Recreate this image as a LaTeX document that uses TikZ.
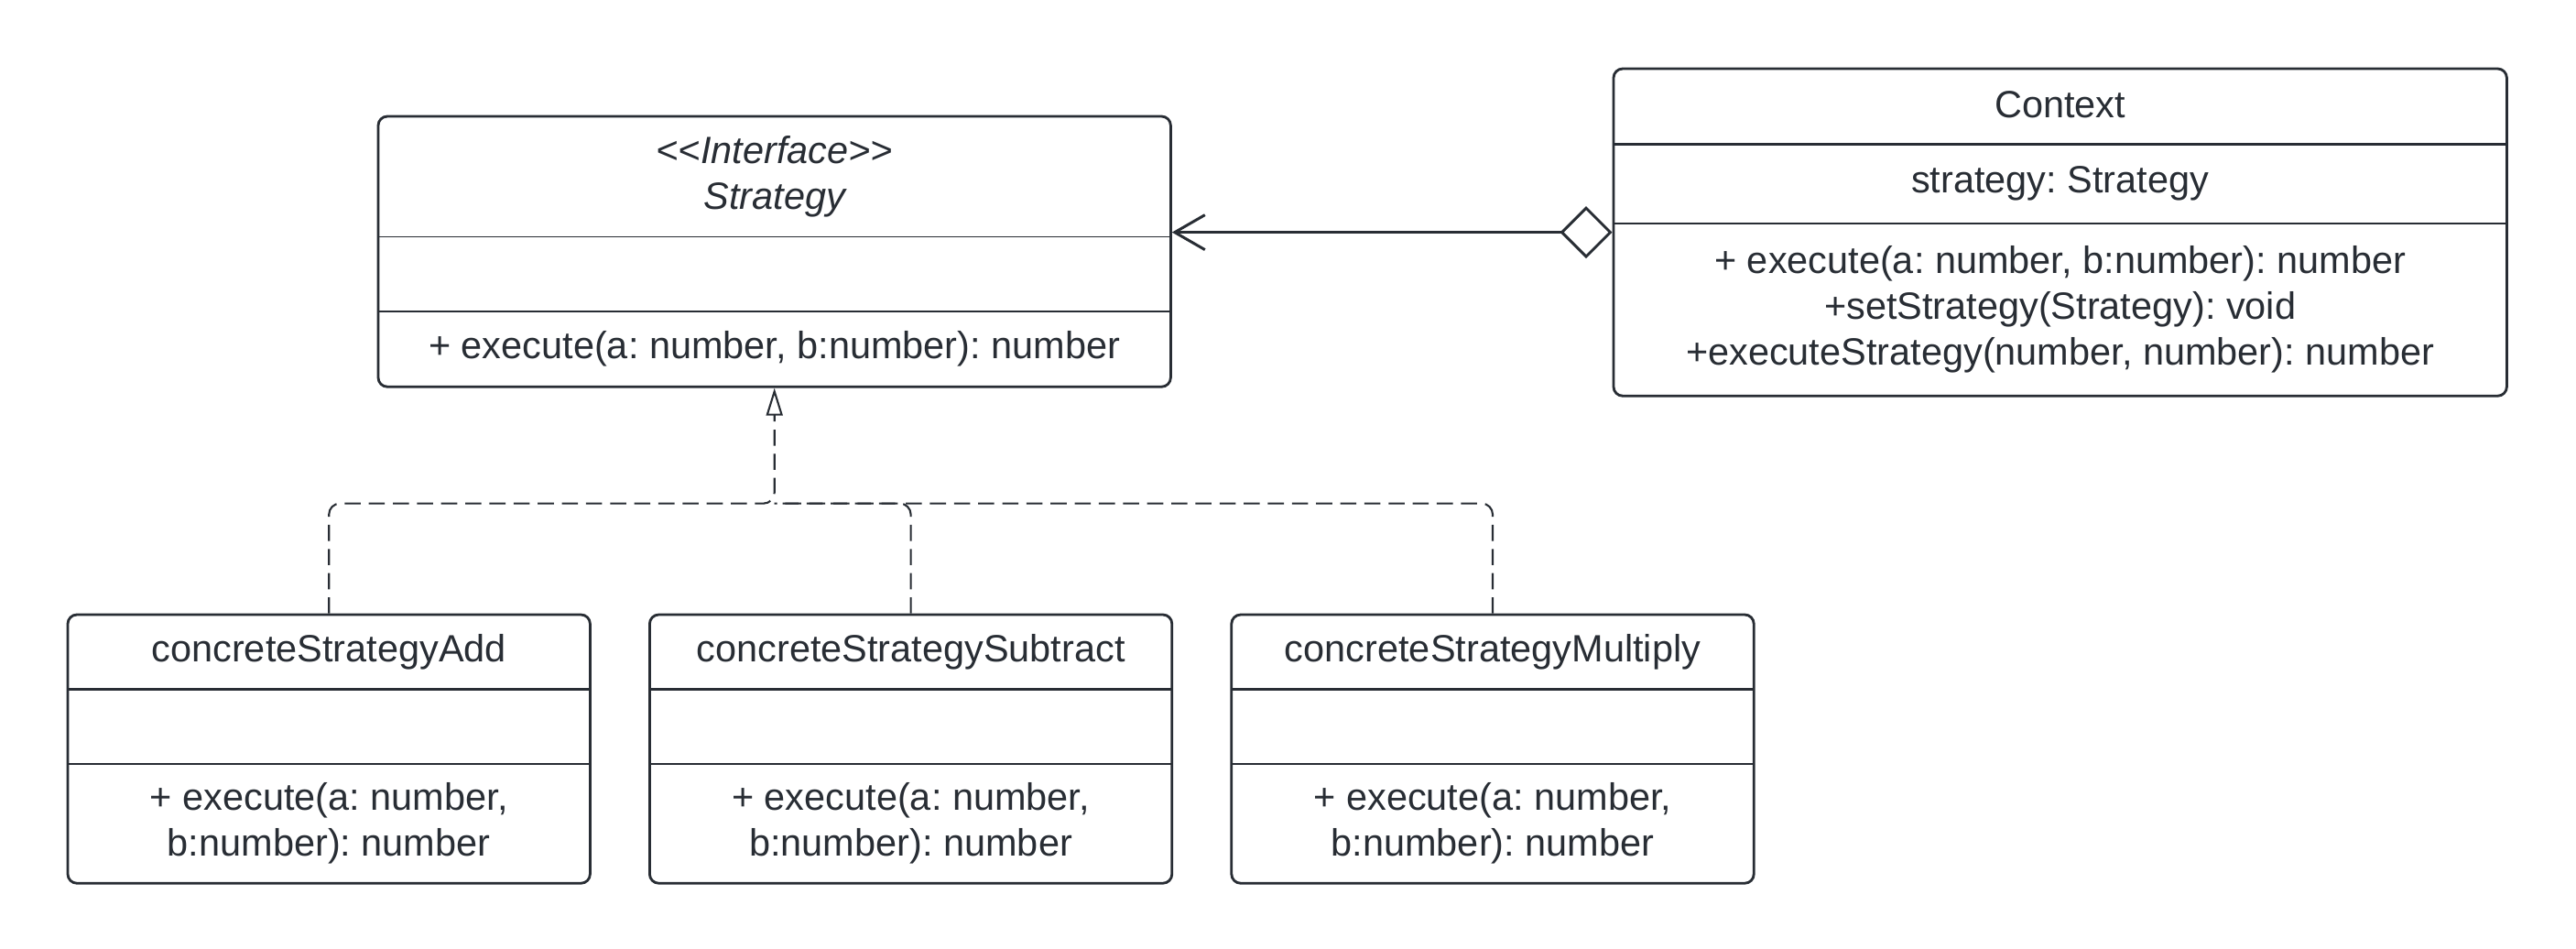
\documentclass[tikz,border=0pt]{standalone}
\usepackage{fontspec}
\setmainfont{Liberation Sans}
\usepackage{xcolor}
\definecolor{umlgray}{RGB}{40,45,52}
\usetikzlibrary{positioning}
\usetikzlibrary{fit}
\usetikzlibrary{arrows.meta}
\frenchspacing
\newcommand{\widthchild}{5.69cm}
\newcommand{\widthstrat}{8.64cm}
\newcommand{\widthctx}{9.74cm}
\newcommand{\heightrow}{0.80cm}
\tikzset{
    part/.style={rectangle, inner sep=0pt, align=center, minimum height=\heightrow},
    frame/.style={draw, rectangle, rounded corners=1mm, inner sep=0pt, line width=0.8pt},
    divider/.style={line width=0.75pt},
    thindivider/.style={line width=0.45pt},
    assoc/.style={line width=0.85pt, {Diamond[open, length=5.7mm, width=5.7mm]}-{Straight Barb[length=3.3mm, width=3.8mm]}},
    realize/.style={line width=0.6pt, dash pattern=on 5pt off 2.5pt, rounded corners=1.2mm},
    realizetip/.style={-{Triangle[open, length=3mm, width=1.8mm]}}
}

\begin{document}
\begin{tikzpicture}[color=umlgray, text=umlgray, font=\fontsize{11.8}{14.2}\selectfont]
    \useasboundingbox (0,0) rectangle (28.13,-10.35);

    % interface
    \node[part, anchor=north west, minimum width=\widthstrat, minimum height=1.30cm] (Strat-name) at (4.13,-1.27) {{\itshape <\kern0pt<Interface>\kern0pt>}\\{\itshape Strategy}};
    \node[part, below=0pt of Strat-name, minimum width=\widthstrat] (Strat-attr) {};
    \node[part, below=0pt of Strat-attr, minimum width=\widthstrat, minimum height=0.81cm] (Strat-ops) {+ execute(a: number, b:number): number};
    \node[frame, fit=(Strat-name)(Strat-ops)] (Strat) {};
    \draw[thindivider]
        (Strat-attr.north west) -- (Strat-attr.north east)
        (Strat-ops.north west) -- (Strat-ops.north east);

    % context
    \node[part, anchor=north west, minimum width=\widthctx, minimum height=0.81cm] (Ctx-name) at (17.62,-0.75) {\raisebox{0.5mm}{Context}};
    \node[part, below=0pt of Ctx-name, minimum width=\widthctx, minimum height=0.85cm] (Ctx-attr) {strategy: Strategy};
    \node[part, below=0pt of Ctx-attr, minimum width=\widthctx, minimum height=1.87cm] (Ctx-ops) {+ execute(a: number, b:number): number\\+setStrategy(Strategy): void\\+executeStrategy(number, number): number};
    \node[frame, fit=(Ctx-name)(Ctx-ops)] (Ctx) {};
    \draw[divider]
        (Ctx-attr.north west) -- (Ctx-attr.north east)
        (Ctx-ops.north west) -- (Ctx-ops.north east);

    % concrete strategies
    \node[part, anchor=north west, minimum width=\widthchild] (Add-name) at (0.74,-6.71) {concreteStrategyAdd};
    \node[part, below=0pt of Add-name, minimum width=\widthchild] (Add-attr) {};
    \node[part, below=0pt of Add-attr, minimum width=\widthchild, minimum height=1.29cm] (Add-ops) {+ execute(a: number,\\b:number): number};
    \node[frame, fit=(Add-name)(Add-ops)] (Add) {};

    \node[part, right=0.65cm of Add-name, minimum width=\widthchild] (Sub-name) {concreteStrategySubtract};
    \node[part, below=0pt of Sub-name, minimum width=\widthchild] (Sub-attr) {};
    \node[part, below=0pt of Sub-attr, minimum width=\widthchild, minimum height=1.29cm] (Sub-ops) {+ execute(a: number,\\b:number): number};
    \node[frame, fit=(Sub-name)(Sub-ops)] (Sub) {};

    \node[part, right=0.65cm of Sub-name, minimum width=\widthchild] (Mul-name) {concreteStrategyMultiply};
    \node[part, below=0pt of Mul-name, minimum width=\widthchild] (Mul-attr) {};
    \node[part, below=0pt of Mul-attr, minimum width=\widthchild, minimum height=1.29cm] (Mul-ops) {+ execute(a: number,\\b:number): number};
    \node[frame, fit=(Mul-name)(Mul-ops)] (Mul) {};

    \draw[divider]
        (Add-attr.north west) -- (Add-attr.north east)
        (Sub-attr.north west) -- (Sub-attr.north east)
        (Mul-attr.north west) -- (Mul-attr.north east);
    \draw[thindivider]
        (Add-ops.north west) -- (Add-ops.north east)
        (Sub-ops.north west) -- (Sub-ops.north east)
        (Mul-ops.north west) -- (Mul-ops.north east);

    % connectors
    \draw[assoc] (Ctx.west) -- (Ctx.west -| Strat.east);

    \coordinate[below=1.26cm of Strat.south] (join);
    \draw[realize, realizetip] (Add.north) |- (join) -- (Strat.south);
    \draw[realize] (Sub.north) |- (join);
    \draw[realize] (Mul.north) |- (join);
\end{tikzpicture}
\end{document}
